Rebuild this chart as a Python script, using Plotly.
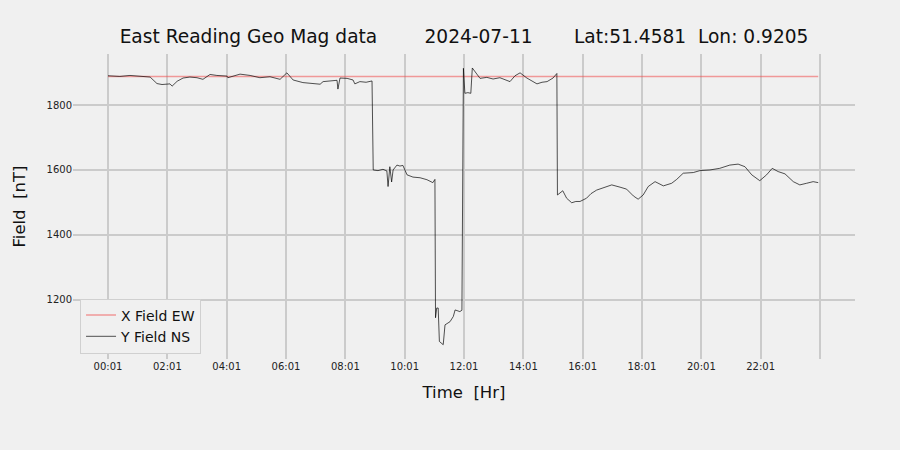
import plotly.graph_objects as go

# Time in hours after 00:01
hours = [0.00, 0.40, 0.74, 1.08, 1.42, 1.65, 1.82, 2.09, 2.16, 2.33, 2.53, 2.76, 3.00, 3.20,
         3.44, 3.67, 4.01, 4.04, 4.45, 4.79, 5.12, 5.46, 5.80, 6.03, 6.24, 6.57, 6.81, 7.15,
         7.25, 7.48, 7.72, 7.75, 7.82, 8.06, 8.26, 8.32, 8.49, 8.70, 8.90, 8.94,
         9.10, 9.27, 9.40, 9.44, 9.50, 9.56, 9.61, 9.74, 9.84, 9.94, 10.08, 10.28, 10.52,
         10.75, 10.95, 11.02, 11.04, 11.08, 11.13, 11.17, 11.30, 11.36, 11.53, 11.64, 11.70,
         11.86, 11.93, 11.98, 12.03, 12.13, 12.23, 12.28, 12.37, 12.54, 12.77, 12.98, 13.21,
         13.45, 13.55, 13.72, 13.89, 14.12, 14.29, 14.46, 14.63, 14.80, 15.00, 15.13, 15.15,
         15.33, 15.46, 15.63, 15.77, 15.91, 16.13, 16.28, 16.47, 16.68, 16.98, 17.26, 17.48,
         17.71, 17.87, 18.04, 18.21, 18.44, 18.72, 19.00, 19.17, 19.39, 19.73, 19.95, 20.29,
         20.62, 20.96, 21.24, 21.47, 21.70, 21.97, 22.20, 22.39, 22.59, 22.82, 23.10, 23.32,
         23.55, 23.77, 23.94]

y_field_ns = [1890, 1888, 1891, 1889, 1886, 1866, 1863, 1865, 1858, 1873, 1883, 1886, 1884, 1879,
              1894, 1891, 1889, 1884, 1895, 1891, 1884, 1887, 1879, 1899, 1877, 1869, 1866, 1864,
              1872, 1874, 1876, 1849, 1883, 1882, 1877, 1865, 1872, 1870, 1874, 1600,
              1598, 1602, 1597, 1549, 1610, 1563, 1600, 1615, 1612, 1614, 1585, 1578, 1576,
              1570, 1561, 1571, 1145, 1175, 1175, 1072, 1062, 1123, 1133, 1149, 1169,
              1164, 1168, 1913, 1836, 1838, 1836, 1914, 1902, 1882, 1885, 1880, 1884,
              1877, 1872, 1890, 1899, 1883, 1875, 1865, 1870, 1872, 1883, 1897, 1523,
              1536, 1513, 1499, 1503, 1503, 1513, 1527, 1538, 1544, 1554, 1547, 1541,
              1520, 1510, 1523, 1549, 1564, 1551, 1559, 1571, 1590, 1592, 1598, 1600,
              1605, 1615, 1618, 1610, 1585, 1567, 1585, 1605, 1595, 1588, 1564, 1554,
              1559, 1564, 1561]

x_field_hours = [0.00, 23.94]
x_field_ew = [1888, 1888]

tick_hours = [0, 2, 4, 6, 8, 10, 12, 14, 16, 18, 20, 22, 24]
tick_labels = ["00:01", "02:01", "04:01", "06:01", "08:01", "10:01", "12:01",
               "14:01", "16:01", "18:01", "20:01", "22:01", ""]

title_text = ("East Reading Geo Mag data" + "\u00a0" * 8 + "2024-07-11" + "\u00a0" * 7 +
              "Lat:51.4581\u00a0\u00a0Lon: 0.9205")

fig = go.Figure()
fig.add_trace(go.Scatter(x=x_field_hours, y=x_field_ew, mode="lines", name="X Field EW",
                         line=dict(color="rgba(240,80,80,0.55)", width=1.5)))
fig.add_trace(go.Scatter(x=hours, y=y_field_ns, mode="lines", name="Y Field NS",
                         line=dict(color="rgba(0,0,0,0.85)", width=0.8)))

font_family = "DejaVu Sans"
fig.update_layout(
    width=900, height=450,
    paper_bgcolor="#f0f0f0", plot_bgcolor="#f0f0f0",
    margin=dict(l=73, r=45, t=54, b=91),
    font=dict(family=font_family, color="#222"),
    title=dict(text=title_text, x=0.5, xref="paper", xanchor="center",
               y=1 - 36 / 450, yref="container", yanchor="middle",
               font=dict(size=18.6, color="#111")),
    showlegend=True,
    legend=dict(x=0.009, y=0.018, xanchor="left", yanchor="bottom",
                bgcolor="#f0f0f0", bordercolor="#d0d0d0", borderwidth=1,
                itemwidth=30, tracegroupgap=0,
                font=dict(size=14, color="#111")),
)
fig.update_xaxes(range=[-1.18, 25.18], tickvals=tick_hours, ticktext=tick_labels,
                 showgrid=True, gridcolor="#cbcbcb", gridwidth=2, zeroline=False,
                 showline=False, ticks="", tickfont=dict(size=10),
                 title=dict(text="Time  [Hr]", font=dict(size=16.5, color="#111"), standoff=15))
fig.update_yaxes(range=[1018, 1957], tickvals=[1200, 1400, 1600, 1800],
                 showgrid=True, gridcolor="#cbcbcb", gridwidth=2, zeroline=False,
                 showline=False, ticks="", tickfont=dict(size=10),
                 title=dict(text="Field  [nT]", font=dict(size=16.5, color="#111"), standoff=16))

fig.write_html("out.html", config={"displayModeBar": False},
               post_script="document.body.style.margin='0';"
                           "document.body.style.background='#f0f0f0';")
